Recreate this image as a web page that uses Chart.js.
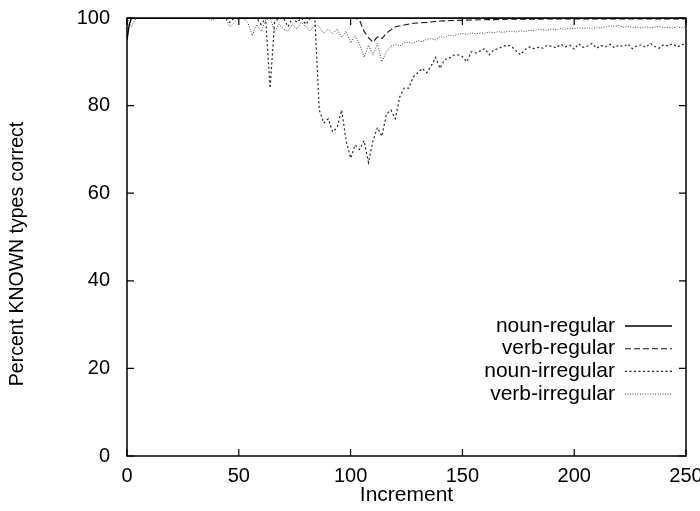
<!DOCTYPE html>
<html>
<head>
<meta charset="utf-8">
<script src="https://cdn.jsdelivr.net/npm/chart.js@4.4.0/dist/chart.umd.min.js"></script>
<style>
  html, body { margin: 0; padding: 0; background: #fff; }
  #wrap { width: 700px; height: 511px; position: relative; }
</style>
</head>
<body>
<div id="wrap"><canvas id="learningChart"></canvas></div>
<script>
// increments sampled every 2 steps (shared by the two irregular series)
const increments = [
    0, 2, 4, 6, 8, 10, 12, 14, 16, 18, 20, 22, 24, 26, 28, 30, 32, 34, 36, 38,
    40, 42, 44, 46, 48, 50, 52, 54, 56, 58, 60, 62, 64, 66, 68, 70, 72, 74, 76, 78,
    80, 82, 84, 86, 88, 90, 92, 94, 96, 98, 100, 102, 104, 106, 108, 110, 112, 114, 116, 118,
    120, 122, 124, 126, 128, 130, 132, 134, 136, 138, 140, 142, 144, 146, 148, 150, 152, 154, 156, 158,
    160, 162, 164, 166, 168, 170, 172, 174, 176, 178, 180, 182, 184, 186, 188, 190, 192, 194, 196, 198,
    200, 202, 204, 206, 208, 210, 212, 214, 216, 218, 220, 222, 224, 226, 228, 230, 232, 234, 236, 238,
    240, 242, 244, 246, 248, 250
];

const nounRegularX = [0, 1, 2, 250];
const nounRegularY = [95, 98.5, 100, 100];

const verbRegularX = [0, 102, 104, 106, 108, 110, 112, 114, 116, 118, 120, 124, 128, 134, 140, 150, 170, 200, 250];
const verbRegularY = [100, 100, 99.5, 97, 95.5, 94.5, 95.7, 95.3, 96.5, 97.3, 98, 98.4, 98.8, 99, 99.3, 99.5, 99.7, 99.8, 99.8];

const nounIrregularY = [
    100, 100, 100, 100, 100, 100, 100, 100, 100, 100, 100, 100, 100, 100, 100, 100, 100, 100, 100, 100,
    100, 100, 100, 99, 100, 100, 100, 100, 100, 100, 98.5, 100, 84, 99, 100, 100, 98, 100, 99, 100,
    98.5, 100, 100,
    79, 76, 77, 74, 75, 79, 72, 68, 71, 70, 72, 67, 72, 75, 73, 78, 79, 77, 82, 84,
    84, 86.5, 87.5, 88.5, 87.5, 89, 91, 88.5, 90.5, 90.8, 91.5, 91.6, 91.2, 90, 92.3, 92, 92.5, 93, 91.6, 92.7,
    93, 93.5, 93.8, 93.5, 92.5, 91.6, 92.8, 93.4, 93, 93.3, 93.1, 93.8, 93.5,
    93.2, 94, 93.4, 93.8, 92.9, 94.1, 93.3, 93.6, 94.2, 93.1, 93.7, 93.4, 94, 93.2, 93.8, 93.5, 94.1, 93, 93.6, 93.9,
    93.3, 94.2, 93.5, 93.1, 93.9, 93.6, 94.1, 93.4, 93.8, 94.3
];

const verbIrregularY = [
    100, 98, 100, 100, 100, 100, 100, 100, 100, 100, 100, 100, 100, 100, 100, 100, 100, 100, 100, 99.5,
    100, 100, 100, 98, 99, 100, 100, 99, 96, 98.5, 97, 99.5, 100, 97, 98.5, 97.5, 97, 98.5, 97.5, 99,
    98, 97, 98.5,
    98, 96.5, 97.5, 96.4, 97.5, 95.6, 97, 94.3, 96, 94, 91, 93.8, 91.5, 94.2, 90, 92.3, 93.5, 94, 93.6, 94.3,
    94.5, 94.2, 94.8, 94.6, 95.1, 95.3, 95, 95.7, 95.5, 96.1, 95.9, 96.3, 96.5, 96.2, 96.6, 96.4, 96.6, 96.5, 96.8, 96.6,
    96.9, 96.7, 96.9, 97, 96.8, 97.1, 96.9, 97.2, 97.1, 97.4, 97.3, 97.2, 97.5, 97.3, 97.6, 97.4, 97.7, 97.5, 97.8, 97.6,
    97.8, 97.5, 97.9, 97.7, 98, 98.2, 98.1, 98.3, 97.9, 98.1, 97.8, 98, 97.7, 98, 97.8, 97.9, 98.1, 97.8, 97.9, 97.7,
    98, 97.8, 98
];

const seriesLabels = ['noun-regular', 'verb-regular', 'noun-irregular', 'verb-irregular'];
const xTicks = [0, 50, 100, 150, 200, 250];
const yTicks = [0, 20, 40, 60, 80, 100];
const yTitle = 'Percent KNOWN types correct';

const FONT = "'Liberation Sans', Arial, Helvetica, sans-serif";

function toPoints(xs, ys) {
    return xs.map((x, i) => ({ x: x, y: ys[i] }));
}

// gnuplot-like frame with inward ticks, y title and key drawn inside the plot
const framePlugin = {
    id: 'frame',
    afterDraw(chart) {
        const { ctx, chartArea: a, scales } = chart;
        ctx.save();
        ctx.strokeStyle = '#000';
        ctx.lineWidth = 1.5;
        ctx.setLineDash([]);
        ctx.strokeRect(a.left, a.top, a.right - a.left, a.bottom - a.top);
        ctx.lineWidth = 1.2;
        ctx.beginPath();
        xTicks.forEach(v => {
            const px = scales.x.getPixelForValue(v);
            ctx.moveTo(px, a.bottom); ctx.lineTo(px, a.bottom - 7);
            ctx.moveTo(px, a.top); ctx.lineTo(px, a.top + 7);
        });
        yTicks.forEach(v => {
            const py = scales.y.getPixelForValue(v);
            ctx.moveTo(a.left, py); ctx.lineTo(a.left + 7, py);
            ctx.moveTo(a.right, py); ctx.lineTo(a.right - 7, py);
        });
        ctx.stroke();

        // y title, sits a bit below the axis middle like the original
        ctx.save();
        ctx.translate(18, 254);
        ctx.rotate(-Math.PI / 2);
        ctx.font = '19.5px ' + FONT;
        ctx.fillStyle = '#000';
        ctx.textAlign = 'center';
        ctx.textBaseline = 'middle';
        ctx.fillText(yTitle, 0, 0);
        ctx.restore();

        // key
        ctx.font = '21px ' + FONT;
        ctx.fillStyle = '#000';
        ctx.textAlign = 'right';
        ctx.textBaseline = 'middle';
        chart.data.datasets.forEach((ds, i) => {
            const y = 326 + i * 22.7;
            ctx.fillText(ds.label, 615, y);
            ctx.strokeStyle = ds.borderColor;
            ctx.lineWidth = ds.borderWidth;
            ctx.setLineDash(ds.borderDash || []);
            ctx.beginPath();
            ctx.moveTo(625, y);
            ctx.lineTo(672, y);
            ctx.stroke();
        });
        ctx.restore();
    }
};

const ctx = document.getElementById('learningChart');
new Chart(ctx.getContext('2d'), {
    type: 'line',
    data: {
        datasets: [
            {
                label: seriesLabels[0],
                data: toPoints(nounRegularX, nounRegularY),
                borderColor: '#000',
                borderWidth: 1.4,
                borderDash: [],
            },
            {
                label: seriesLabels[1],
                data: toPoints(verbRegularX, verbRegularY),
                borderColor: '#111',
                borderWidth: 1.1,
                borderDash: [6, 3],
            },
            {
                label: seriesLabels[2],
                data: toPoints(increments, nounIrregularY),
                borderColor: '#222',
                borderWidth: 1.2,
                borderDash: [2, 2.5],
            },
            {
                label: seriesLabels[3],
                data: toPoints(increments, verbIrregularY),
                borderColor: '#444',
                borderWidth: 1,
                borderDash: [1, 1.5],
            }
        ]
    },
    options: {
        responsive: true,
        maintainAspectRatio: false,
        animation: false,
        layout: { padding: { top: 18, right: 14, left: 0, bottom: 0 } },
        elements: {
            point: { radius: 0 },
            line: { tension: 0, fill: false }
        },
        plugins: {
            legend: { display: false },
            tooltip: { enabled: false }
        },
        scales: {
            x: {
                type: 'linear',
                min: 0,
                max: 250,
                afterBuildTicks: (scale) => { scale.ticks = xTicks.map(v => ({ value: v })); },
                afterFit: (scale) => { scale.height = 55; scale.paddingLeft = 0; scale.paddingRight = 0; },
                grid: { display: false, drawTicks: false },
                border: { display: false },
                ticks: {
                    color: '#000',
                    padding: 8,
                    font: { family: FONT, size: 20 }
                },
                title: {
                    display: true,
                    text: 'Increment',
                    color: '#000',
                    padding: { top: 0, bottom: 3 },
                    font: { family: FONT, size: 21 }
                }
            },
            y: {
                type: 'linear',
                min: 0,
                max: 100,
                afterBuildTicks: (scale) => { scale.ticks = yTicks.map(v => ({ value: v })); },
                afterFit: (scale) => { scale.width = 127; scale.paddingTop = 0; scale.paddingBottom = 0; },
                grid: { display: false, drawTicks: false },
                border: { display: false },
                ticks: {
                    color: '#000',
                    padding: 17,
                    font: { family: FONT, size: 20 }
                },
                title: { display: false }
            }
        }
    },
    plugins: [framePlugin]
});
</script>
</body>
</html>
